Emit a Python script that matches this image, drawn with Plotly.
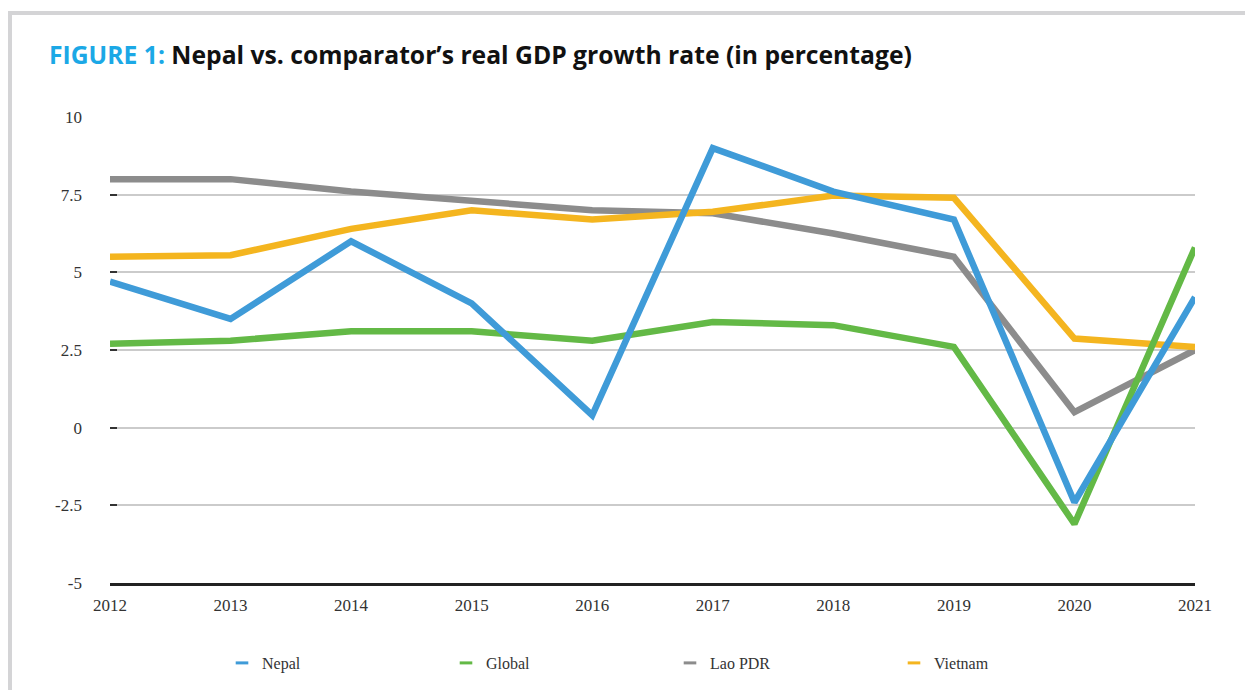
import plotly.graph_objects as go

# Real GDP growth rate (%), 2012-2021
years = [2012, 2013, 2014, 2015, 2016, 2017, 2018, 2019, 2020, 2021]
nepal = [4.7, 3.5, 6.0, 4.0, 0.4, 9.0, 7.6, 6.7, -2.4, 4.2]
global_ = [2.7, 2.8, 3.1, 3.1, 2.8, 3.4, 3.3, 2.6, -3.1, 5.8]
lao_pdr = [8.0, 8.0, 7.6, 7.3, 7.0, 6.9, 6.25, 5.5, 0.5, 2.5]
vietnam = [5.5, 5.55, 6.4, 7.0, 6.7, 6.95, 7.47, 7.4, 2.87, 2.6]

series_names = ["Nepal", "Global", "Lao PDR", "Vietnam"]
series_values = [nepal, global_, lao_pdr, vietnam]
series_colors = ["#3f9bd8", "#63b946", "#8c8c8c", "#f4b51f"]

y_ticks = [-5, -2.5, 0, 2.5, 5, 7.5, 10]
y_tick_labels = ["-5", "-2.5", "0", "2.5", "5", "7.5", "10"]

W, H = 1245, 690
L, R, T, B = 110, 50, 117, 107
pw, ph = W - L - R, H - T - B


def px_x(p):
    return (p - L) / pw


def px_y(p):
    return (H - B - p) / ph


fig = go.Figure()

# Draw order: Lao PDR and Vietnam under Nepal and Global
for idx in [2, 3, 1, 0]:
    fig.add_trace(go.Scatter(
        x=years, y=series_values[idx], mode="lines", name=series_names[idx],
        line=dict(color=series_colors[idx], width=6.5),
        showlegend=False, hoverinfo="x+y+name",
    ))

# Short dash legend keys
for name, color in zip(series_names, series_colors):
    fig.add_trace(go.Scatter(
        x=[None], y=[None], mode="markers", name=name,
        marker=dict(symbol="line-ew", size=9, color=color,
                    line=dict(color=color, width=3)),
        showlegend=True,
    ))

serif = "Liberation Serif, Times New Roman, serif"

fig.update_layout(
    width=W, height=H,
    margin=dict(l=L, r=R, t=T, b=B, autoexpand=False),
    paper_bgcolor="white", plot_bgcolor="white",
    xaxis=dict(
        range=[2012, 2021], tickmode="array", tickvals=years,
        ticktext=[str(y) for y in years],
        showgrid=False, zeroline=False, ticks="",
        showline=True, linecolor="#222222", linewidth=2.5,
        tickfont=dict(family=serif, size=17, color="#333333"),
        ticklabelstandoff=5,
    ),
    yaxis=dict(
        range=[-5, 10], tickmode="array", tickvals=y_ticks,
        ticktext=y_tick_labels,
        showgrid=True, gridcolor="#cbcbcb", gridwidth=2,
        zeroline=False, showline=False,
        ticks="inside", ticklen=7, tickwidth=2, tickcolor="#333333",
        tickfont=dict(family=serif, size=17, color="#333333"),
        ticklabelstandoff=27,
    ),
    legend=dict(
        orientation="h", x=px_x(222), xanchor="left",
        yref="container", y=1 - 663 / H, yanchor="middle",
        entrywidth=179, entrywidthmode="pixels",
        font=dict(family=serif, size=16, color="#333333"),
        bgcolor="rgba(0,0,0,0)", itemsizing="trace",
    ),
    showlegend=True,
)

# Light grey frame around the figure
fig.add_shape(
    type="rect", xref="paper", yref="paper", layer="below",
    x0=px_x(10), x1=px_x(1320), y0=px_y(760), y1=px_y(13),
    line=dict(color="#d4d4d6", width=4), fillcolor="rgba(0,0,0,0)",
)

fig.add_annotation(
    xref="paper", yref="paper", x=px_x(47), y=px_y(54),
    xanchor="left", yanchor="middle", showarrow=False,
    text=("<b><span style='color:#1ba8e6'>FIGURE 1:</span> "
          "Nepal vs. comparator\u2019s real GDP growth rate (in percentage)</b>"),
    font=dict(family="Open Sans, Noto Sans, sans-serif", size=24.7, color="#111111"),
)

fig.write_html("out.html")
